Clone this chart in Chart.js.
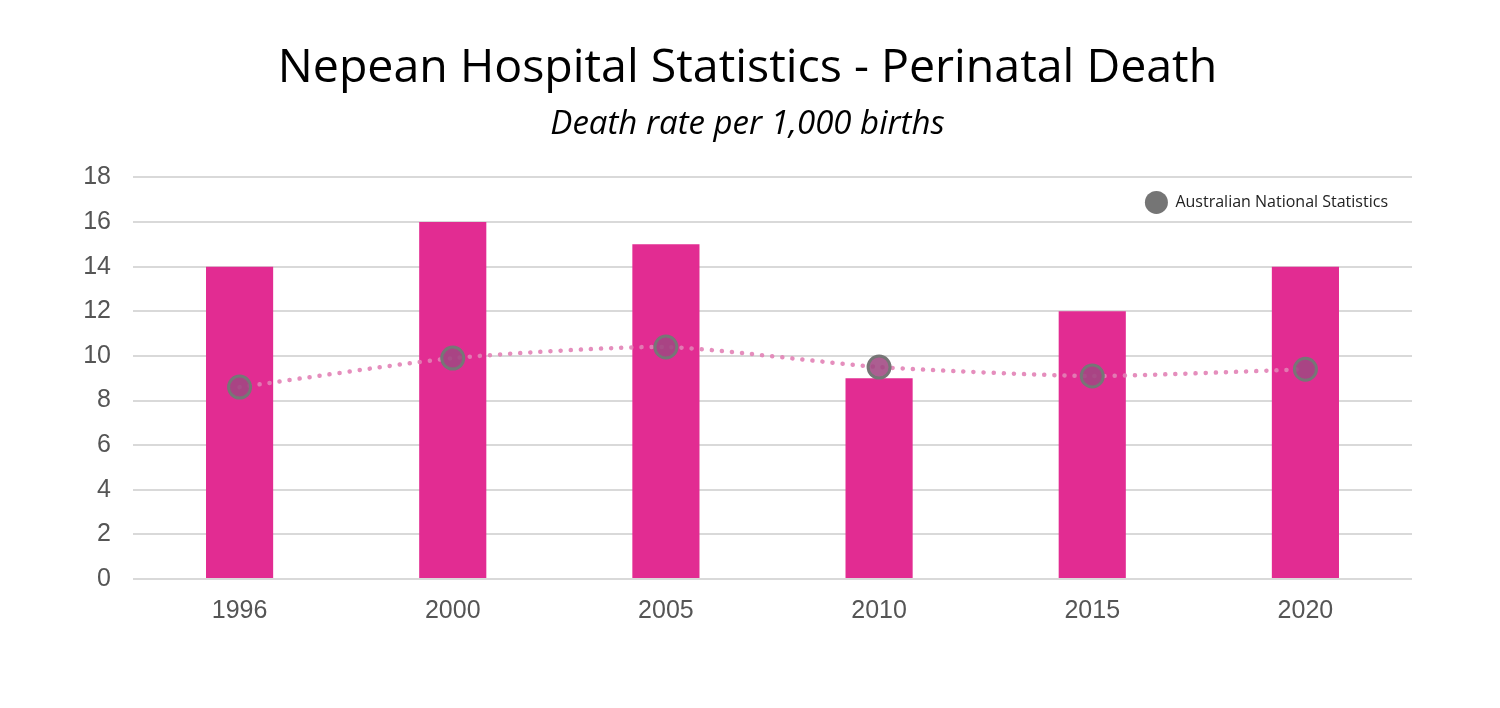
<!DOCTYPE html>
<html>
<head>
<meta charset="utf-8">
<script src="https://cdn.jsdelivr.net/npm/chart.js@4/dist/chart.umd.min.js"></script>
<style>
  html, body { margin: 0; padding: 0; background: #fff; }
  #wrap { width: 1500px; height: 708px; }
</style>
</head>
<body>
<div id="wrap"><canvas id="deathChart" width="1500" height="708"></canvas></div>
<script>
const years = ['1996', '2000', '2005', '2010', '2015', '2020'];
const nepeanRates = [14, 16, 15, 9, 12, 14];
const nationalRates = [8.6, 9.9, 10.4, 9.5, 9.1, 9.4];
const yTicks = [0, 2, 4, 6, 8, 10, 12, 14, 16, 18];
const legendLabel = 'Australian National Statistics';

// legend sits inside the plot, top right
const insideLegend = {
    id: 'insideLegend',
    afterDraw(chart) {
        const c = chart.ctx;
        const area = chart.chartArea;
        c.save();
        c.font = '16px "Open Sans"';
        c.fillStyle = '#222';
        c.textBaseline = 'middle';
        c.textAlign = 'right';
        const right = area.right - 24;
        const y = area.top + 25;
        c.fillText(legendLabel, right, y);
        const w = c.measureText(legendLabel).width;
        c.beginPath();
        c.arc(right - w - 19, y, 11.5, 0, Math.PI * 2);
        c.fillStyle = '#757575';
        c.fill();
        c.restore();
    }
};

const ctx = document.getElementById('deathChart').getContext('2d');
const deathChart = new Chart(ctx, {
    type: 'bar',
    data: {
        labels: years,
        datasets: [{
            type: 'line',
            label: legendLabel,
            data: nationalRates,
            borderColor: 'rgba(226, 130, 182, 0.9)',
            borderWidth: 4.5,
            borderDash: [0.1, 10],
            borderCapStyle: 'round',
            tension: 0.2,
            pointRadius: 11,
            pointHoverRadius: 11,
            pointBackgroundColor: 'rgba(160, 72, 130, 0.88)',
            pointBorderColor: '#767676',
            pointBorderWidth: 3,
            order: 0
        }, {
            label: 'Nepean Hospital',
            data: nepeanRates,
            backgroundColor: '#e22c92',
            barPercentage: 0.9,
            categoryPercentage: 0.35,
            order: 1
        }]
    },
    options: {
        responsive: false,
        animation: false,
        layout: { padding: { left: 83, right: 88, top: 41, bottom: 73 } },
        plugins: {
            title: {
                display: true,
                text: 'Nepean Hospital Statistics - Perinatal Death',
                color: '#000',
                font: { family: 'Open Sans', size: 46.5, weight: 'normal' },
                padding: { top: 0, bottom: 8 }
            },
            subtitle: {
                display: true,
                text: 'Death rate per 1,000 births',
                color: '#000',
                font: { family: 'Open Sans', size: 33, style: 'italic' },
                padding: { top: 0, bottom: 33 }
            },
            legend: { display: false },
            tooltip: { enabled: false }
        },
        scales: {
            x: {
                offset: true,
                grid: { display: false },
                border: { display: false },
                ticks: {
                    color: '#555',
                    font: { family: 'Liberation Sans', size: 25 },
                    padding: 9
                }
            },
            y: {
                min: 0,
                max: 18,
                afterBuildTicks: axis => { axis.ticks = yTicks.map(v => ({ value: v })); },
                afterFit: axis => { axis.width = 50; },
                grid: { color: '#d9d9d9', lineWidth: 2, drawTicks: false },
                border: { display: false },
                ticks: {
                    color: '#555',
                    font: { family: 'Liberation Sans', size: 25 },
                    padding: 22
                }
            }
        }
    },
    plugins: [insideLegend]
});
</script>
</body>
</html>
